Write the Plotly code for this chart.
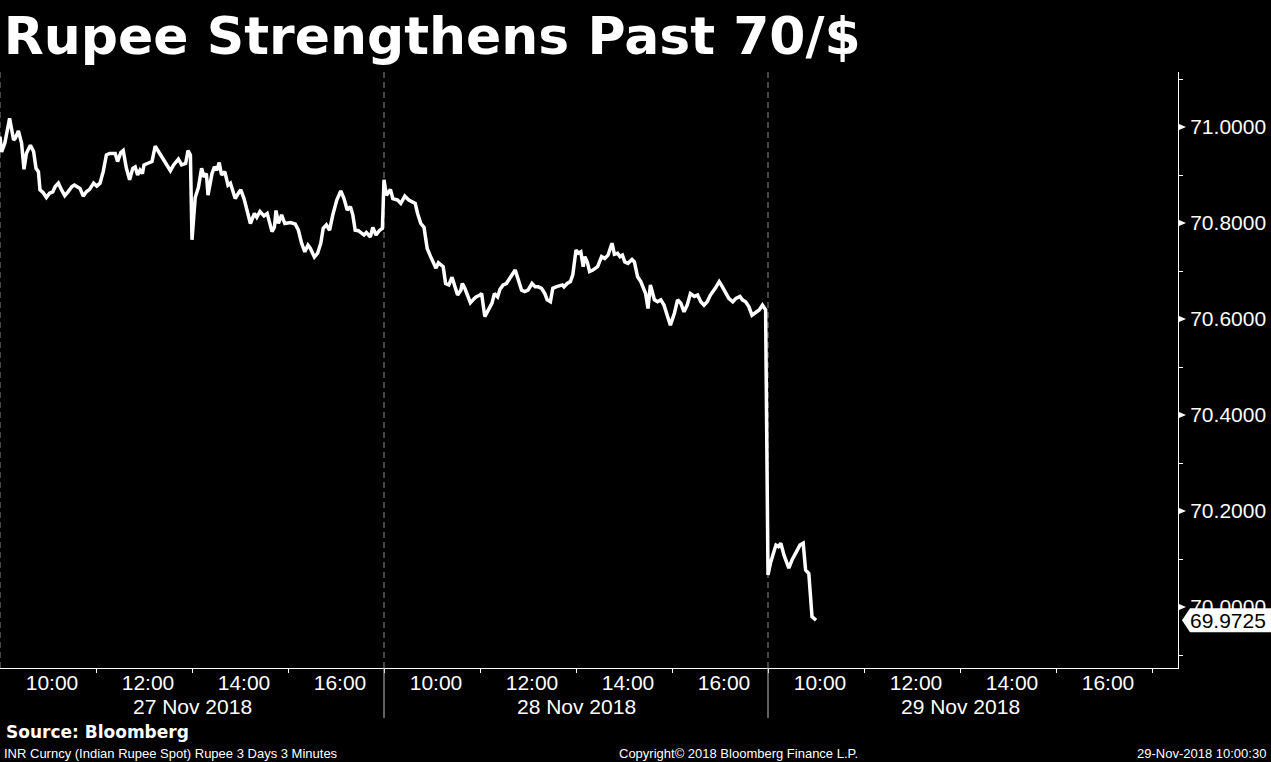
import plotly.graph_objects as go

BG = "#000000"
WHITE = "#FFFFFF"
SEP_DASH = "#8A8A8A"
SEP_SOLID = "#BDBDBD"

W, H = 1271, 762
MARGIN = dict(l=0, r=93, t=72, b=94)
PLOT_W = W - MARGIN["l"] - MARGIN["r"]

TICK_FONT = "Liberation Sans, Arial, sans-serif"
BOLD_FONT = "DejaVu Sans, Verdana, sans-serif"

DAYS = ["27 Nov 2018", "28 Nov 2018", "29 Nov 2018"]
OPEN_HOUR = 9
SESSION_MIN = 480
LABEL_HOURS = [10, 12, 14, 16]
TICK_HOURS = [11, 13, 15, 17]

Y_TICKS = [70.0, 70.2, 70.4, 70.6, 70.8, 71.0]
Y_MINOR = [69.9, 70.1, 70.3, 70.5, 70.7, 70.9, 71.1]
Y_RANGE = [69.873, 71.1146]
X_RANGE = [0, 1472.5]

# minutes after the 09:00 open and USD/INR spot
MIN_27 = [0, 2, 6, 12, 17, 19, 23, 27, 30, 33, 35, 38, 42, 45, 48, 50, 54, 58,
          62, 66, 69, 73, 77, 81, 85, 90, 93, 97, 100, 104, 108, 112, 117, 121,
          125, 129, 133, 137, 144, 147, 151, 154, 158, 162, 166, 169, 172, 175,
          178, 180, 185, 190, 194, 198, 203, 208, 213, 217, 223, 227, 232, 235,
          238, 240, 244, 248, 252, 255, 258, 260, 265, 268, 271, 274, 277, 281,
          285, 288, 294, 298, 301, 305, 309, 313, 318, 321, 325, 330, 334, 340,
          343, 345, 348, 352, 356, 363, 369, 373, 377, 381, 385, 388, 393, 397,
          401, 404, 408, 412, 416, 421, 426, 430, 434, 438, 441, 444, 448, 452,
          455, 458, 463, 466, 470, 474, 478]
VAL_27 = [70.980, 70.948, 70.966, 71.018, 70.973, 70.976, 70.992, 70.966, 70.912,
          70.945, 70.952, 70.962, 70.949, 70.914, 70.907, 70.869, 70.863, 70.853,
          70.862, 70.865, 70.876, 70.883, 70.869, 70.857, 70.865, 70.876, 70.879,
          70.874, 70.872, 70.856, 70.865, 70.870, 70.883, 70.877, 70.883, 70.907,
          70.942, 70.945, 70.945, 70.928, 70.947, 70.951, 70.914, 70.890, 70.914,
          70.917, 70.900, 70.910, 70.903, 70.921, 70.924, 70.928, 70.960, 70.949,
          70.938, 70.924, 70.909, 70.921, 70.933, 70.921, 70.924, 70.951, 70.942,
          70.765, 70.853, 70.874, 70.914, 70.896, 70.903, 70.858, 70.903, 70.917,
          70.910, 70.926, 70.900, 70.907, 70.879, 70.883, 70.851, 70.862, 70.869,
          70.851, 70.827, 70.799, 70.820, 70.812, 70.824, 70.815, 70.820, 70.782,
          70.791, 70.826, 70.799, 70.817, 70.799, 70.801, 70.798, 70.785, 70.758,
          70.740, 70.754, 70.747, 70.729, 70.737, 70.758, 70.789, 70.796, 70.785,
          70.817, 70.848, 70.867, 70.851, 70.827, 70.834, 70.817, 70.785, 70.784,
          70.780, 70.775, 70.780, 70.771, 70.791, 70.775, 70.784, 70.789]

MIN_28 = [0, 3, 5, 8, 11, 17, 21, 26, 31, 35, 39, 42, 46, 50, 52, 54, 58, 60, 65,
          68, 71, 74, 77, 81, 85, 88, 92, 96, 98, 101, 105, 108, 113, 115, 120,
          122, 126, 130, 135, 138, 142, 145, 149, 153, 158, 164, 168, 172, 176,
          180, 185, 189, 193, 197, 201, 204, 208, 211, 215, 219, 223, 225, 229,
          233, 236, 240, 243, 246, 249, 251, 254, 257, 261, 267, 272, 276, 280,
          285, 288, 292, 295, 298, 301, 305, 310, 313, 317, 321, 325, 327, 330,
          333, 338, 342, 346, 350, 354, 358, 363, 367, 371, 375, 379, 383, 388,
          392, 396, 400, 404, 408, 414, 419, 423, 427, 431, 436, 440, 445, 448,
          452, 456, 460, 464, 469, 473, 477]
VAL_28 = [70.890, 70.858, 70.862, 70.870, 70.851, 70.848, 70.841, 70.856, 70.848,
          70.844, 70.841, 70.820, 70.799, 70.791, 70.771, 70.747, 70.731, 70.723,
          70.706, 70.717, 70.712, 70.709, 70.674, 70.671, 70.687, 70.671, 70.650,
          70.660, 70.674, 70.664, 70.646, 70.634, 70.643, 70.646, 70.650, 70.653,
          70.605, 70.619, 70.633, 70.653, 70.646, 70.662, 70.671, 70.674, 70.688,
          70.702, 70.681, 70.660, 70.657, 70.660, 70.674, 70.667, 70.667, 70.664,
          70.653, 70.640, 70.636, 70.664, 70.667, 70.669, 70.671, 70.667, 70.674,
          70.678, 70.692, 70.744, 70.737, 70.740, 70.709, 70.730, 70.719, 70.699,
          70.702, 70.709, 70.730, 70.726, 70.733, 70.758, 70.735, 70.737, 70.730,
          70.733, 70.719, 70.716, 70.724, 70.719, 70.688, 70.678, 70.664, 70.653,
          70.622, 70.671, 70.640, 70.636, 70.640, 70.629, 70.608, 70.587, 70.612,
          70.640, 70.633, 70.615, 70.629, 70.653, 70.647, 70.650, 70.636, 70.629,
          70.636, 70.650, 70.664, 70.678, 70.667, 70.653, 70.643, 70.636, 70.643,
          70.647, 70.640, 70.636, 70.626, 70.608, 70.612, 70.619, 70.629, 70.619]

MIN_29 = [0, 3, 8, 10, 13, 16, 20, 26, 30, 35, 40, 44, 47, 51, 55, 60]
VAL_29 = [70.067, 70.091, 70.119, 70.129, 70.126, 70.133, 70.108, 70.081, 70.098,
          70.115, 70.129, 70.133, 70.077, 70.070, 69.980, 69.9725]

SESSIONS = [(MIN_27, VAL_27), (MIN_28, VAL_28), (MIN_29, VAL_29)]


def session_x(day, minutes):
    return day * SESSION_MIN + minutes


def hour_x(day, hour):
    return session_x(day, (hour - OPEN_HOUR) * 60)


xs, ys = [], []
for d, (mins, vals) in enumerate(SESSIONS):
    xs += [session_x(d, m) for m in mins]
    ys += vals

last_val = VAL_29[-1]

fig = go.Figure()
fig.add_trace(go.Scatter(
    x=xs, y=ys, mode="lines",
    line=dict(color=WHITE, width=3.5),
    hoverinfo="skip", showlegend=False,
))

label_vals = [hour_x(d, h) for d in range(len(DAYS)) for h in LABEL_HOURS]
label_text = [f"{h}:00" for d in range(len(DAYS)) for h in LABEL_HOURS]
minor_vals = [hour_x(d, h) for d in range(len(DAYS)) for h in TICK_HOURS]

fig.update_layout(
    width=W, height=H,
    paper_bgcolor=BG, plot_bgcolor=BG,
    margin=MARGIN,
    showlegend=False,
    font=dict(family=TICK_FONT, size=21, color=WHITE),
    title=dict(
        text="<b>Rupee Strengthens Past 70/$</b>",
        font=dict(family=BOLD_FONT, size=52, color=WHITE),
        x=0.003, xanchor="left", xref="container",
        y=1 - 36 / H, yanchor="middle", yref="container",
    ),
    xaxis=dict(
        range=X_RANGE, showgrid=False, zeroline=False,
        showline=True, linecolor=WHITE, linewidth=1,
        tickmode="array", tickvals=label_vals, ticktext=label_text,
        ticks="", ticklabelshift=4, ticklabelstandoff=-4,
        tickfont=dict(family=TICK_FONT, size=21, color=WHITE),
        minor=dict(tickmode="array", tickvals=minor_vals, ticks="outside",
                   ticklen=4, tickcolor=WHITE, tickwidth=1, showgrid=False),
        fixedrange=True,
    ),
    yaxis=dict(
        side="right", range=Y_RANGE, showgrid=False, zeroline=False,
        showline=True, linecolor=WHITE, linewidth=1,
        tickmode="array", tickvals=Y_TICKS, tickformat=".4f",
        ticks="", ticklabelstandoff=7,
        tickfont=dict(family=TICK_FONT, size=21, color=WHITE),
        minor=dict(tickmode="array", tickvals=Y_MINOR, ticks="outside",
                   ticklen=4, tickcolor=WHITE, tickwidth=1, showgrid=False),
        fixedrange=True,
    ),
)

# session separators: dashed inside the plot, solid through the date band
for d in range(len(DAYS)):
    x0 = session_x(d, 0)
    fig.add_shape(type="line", xref="x", yref="paper", x0=x0, x1=x0, y0=0, y1=1,
                  line=dict(color=SEP_DASH, width=1, dash="6px,4px"), layer="below")
    if d > 0:
        fig.add_shape(type="line", xref="x", yref="paper", ysizemode="pixel",
                      yanchor=0, x0=x0, x1=x0, y0=0, y1=-50,
                      line=dict(color=SEP_SOLID, width=1))
    fig.add_annotation(x=session_x(d, SESSION_MIN / 2), y=0, xref="x", yref="paper",
                       yshift=-38, yanchor="middle", showarrow=False, text=DAYS[d],
                       font=dict(family=TICK_FONT, size=21, color=WHITE))

# right-pointing markers at the major price ticks
for v in Y_TICKS:
    fig.add_shape(type="path", xref="paper", yref="y",
                  xsizemode="pixel", ysizemode="pixel", xanchor=1, yanchor=v,
                  path="M 1,-3 L 8,0 L 1,3 Z", fillcolor=WHITE, line=dict(width=0))

# last-price tag
fig.add_shape(type="path", xref="paper", yref="y",
              xsizemode="pixel", ysizemode="pixel", xanchor=1, yanchor=last_val,
              path="M 4,0 L 12,12 L 93,12 L 93,-12 L 12,-12 Z",
              fillcolor=WHITE, line=dict(width=0), layer="above")
fig.add_annotation(x=1, y=last_val, xref="paper", yref="y", xanchor="left",
                   xshift=10, yanchor="middle", showarrow=False,
                   text=f"{last_val:.4f}",
                   font=dict(family=TICK_FONT, size=21, color="#000000"))

# footer
fig.add_annotation(x=0, y=0, xref="paper", yref="paper", xanchor="left", xshift=4,
                   yshift=-64, yanchor="middle", showarrow=False,
                   text="<b>Source: Bloomberg</b>",
                   font=dict(family=BOLD_FONT, size=17, color=WHITE))
footer_small = dict(family=TICK_FONT, size=13, color=WHITE)
fig.add_annotation(x=0, y=0, xref="paper", yref="paper", xanchor="left", xshift=2,
                   yshift=-85, yanchor="middle", showarrow=False,
                   text="INR Curncy (Indian Rupee Spot) Rupee 3 Days 3 Minutes",
                   font=footer_small)
fig.add_annotation(x=617 / PLOT_W, y=0, xref="paper", yref="paper", xanchor="left",
                   yshift=-85, yanchor="middle", showarrow=False,
                   text="Copyright© 2018 Bloomberg Finance L.P.", font=footer_small)
fig.add_annotation(x=1268 / PLOT_W, y=0, xref="paper", yref="paper", xanchor="right",
                   yshift=-85, yanchor="middle", showarrow=False,
                   text="29-Nov-2018 10:00:30", font=footer_small)

# page body has a default 8px margin; drop it so the chart sits at the corner
fig.write_html("out.html",
               config={"displayModeBar": False},
               post_script="document.body.style.margin='0';"
                           "document.body.style.overflow='hidden';")
